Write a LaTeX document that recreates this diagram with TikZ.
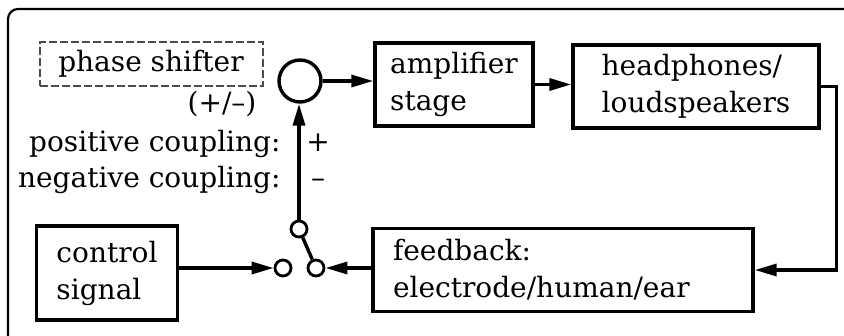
\documentclass[tikz,border=0pt]{standalone}
\usepackage{fontspec}
\setmainfont{DejaVu Serif}
\usetikzlibrary{positioning,arrows.meta,calc}

\tikzset{
  block/.style={draw, line width=1.7pt, align=left, minimum height=41.5pt, inner sep=0pt},
  contact/.style={circle, draw, line width=1.4pt, fill=white, minimum size=8pt, inner sep=0pt},
  sig/.style={line width=1.7pt, -{Triangle[length=11pt,width=6pt]}},
  wire/.style={line width=1.7pt},
  lbl/.style={inner sep=0pt},
}

\begin{document}
\begin{tikzpicture}[x=0.5pt,y=-0.5pt, font=\fontsize{14}{18.5}\selectfont]
\useasboundingbox (0,0) rectangle (844,336);
% frame, only top and left edge
\draw[line width=1.1pt, rounded corners=5pt] (8,336) -- (8,9) -- (844,9);

% upper row
\node[draw, line width=1pt, black!70, text=black, dash pattern=on 4pt off 1.5pt,
      minimum width=111.5pt, minimum height=22pt, inner sep=0pt] (shift) at (151,64) {phase shifter};
\node[circle, draw, line width=1.7pt, minimum size=21pt, inner sep=0pt] (sum) at (300,81) {};
\node[block, minimum width=79pt] (amp) at (454,84.5) {amplifier\\stage};
\node[block, minimum width=123pt] (phones) at (696,86.5) {headphones/\\loudspeakers};

% labels
\node[lbl, anchor=base] (sign) at (222,113) {(+/–)};
\node[lbl, anchor=base east] (poslbl) at (281,152) {positive coupling:};
\node[lbl, anchor=base east] (neglbl) at (281,188) {negative coupling:};
\node[lbl, anchor=base] (plus) at (318,152) {+};
\node[lbl, anchor=base] (minus) at (318,188) {–};

% lower row
\node[block, minimum width=70.5pt, minimum height=47pt] (ctrl) at (107,273) {control\\signal};
\node[block, minimum width=190pt, text width=170pt] (fb) at (563,270) {feedback:\\electrode/human/ear};

% switch
\node[contact] (cL) at (283,268) {};
\node[contact] (cR) at (316,268) {};
\node[contact] (cT) at (299,229) {};

% connectors
\draw[sig] (sum.east) -- (sum.east -| amp.west);
\draw[sig] (amp.east) -- (amp.east -| phones.west);
\draw[sig] (phones.east) -- ++(8pt,0) |- (fb.east);
\draw[sig] (fb.west |- cR) -- (cR);
\draw[sig] (ctrl.east |- cL) -- (cL);
\draw[wire] (cR) -- (cT);
\draw[sig] (cT) -- (cT |- sum.south);
\end{tikzpicture}
\end{document}
